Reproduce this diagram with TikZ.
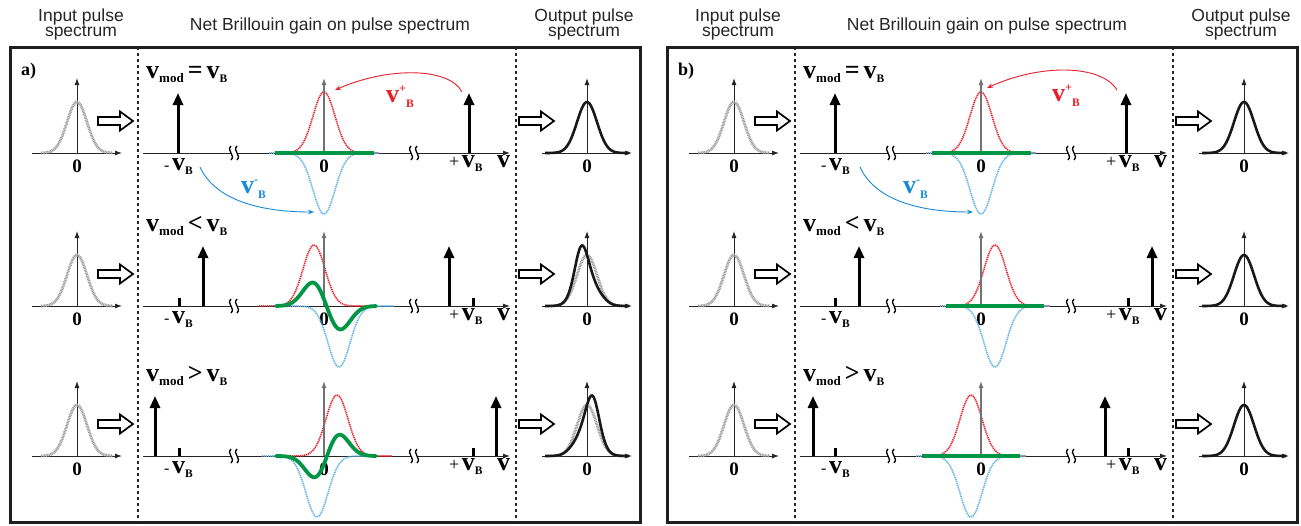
\documentclass[tikz,border=0pt]{standalone}
\usepackage{fontspec}
\setmainfont{Liberation Serif}
\newfontfamily\hdrfont{Liberation Sans}
\usetikzlibrary{arrows.meta}
\definecolor{redc}{RGB}{232,30,40}
\definecolor{bluel}{RGB}{95,178,230}
\definecolor{bluea}{RGB}{20,140,210}
\definecolor{greenc}{RGB}{0,150,70}
\newcommand{\bv}{{\fontsize{26}{26}\selectfont\bfseries v}}
\newcommand{\sbs}[1]{\raisebox{-4pt}{\fontsize{13}{13}\selectfont\bfseries #1}}
\newcommand{\sbB}{\raisebox{-4pt}{\fontsize{11.5}{11.5}\selectfont\bfseries B}}
\newcommand{\brk}[1]{%
  \fill[white] ({#1-3},-5) rectangle ({#1+3},5);
  \draw[brkl] ({#1-3},-7) .. controls ({#1-8},-2) and ({#1+2},2) .. ({#1-3},7);
  \draw[brkl] ({#1+3},-7) .. controls ({#1-2},-2) and ({#1+8},2) .. ({#1+3},7);}
\newcommand{\inputblk}[1]{%
  \draw[axis] (-45,0) -- (45,0);
  \draw[axis] (0,0) -- (0,-75);
  \draw[gin] plot[domain=-36:36,samples=61,smooth] (\x,{-51*exp(-\x*\x/200)});
  \node[zero] (#1) at (0,19) {0};}
\newcommand{\outaxes}[1]{%
  \draw[axis] (-45,0) -- (45,0);
  \draw[axis] (0,0) -- (0,-75);
  \node[zero] (#1) at (0,19) {0};}
\newcommand{\gaussout}{\draw[gout] plot[domain=-42:42,samples=71,smooth] (\x,{-51*exp(-\x*\x/200)});}
\newcommand{\skewout}[1]{%
  \draw[gin] plot[domain=-36:36,samples=61,smooth] (\x,{-51*exp(-\x*\x/200)});
  \draw[gout] plot[domain=-42:42,samples=85,smooth] (\x,{-51*exp(-\x*\x/200)*exp(#1*(exp(-(\x+7)*(\x+7)/200)-exp(-(\x-7)*(\x-7)/200)))});}
\newcommand{\hollow}{\draw[hol] (0,-4) -- (22,-4) -- (22,-9.5) -- (35,0) -- (22,9.5) -- (22,4) -- (0,4) -- cycle;}
\newcommand{\specaxes}[1]{%
  \draw[axis] (-181,0) -- (186,0);
  \brk{-90}\brk{90}
  \node[lbl] (#1m) at (-160,17) {{\fontsize{16}{16}\selectfont -}\hspace{2.5pt}\bv\sbB};
  \node[lbl] (#1p) at (125,14) {{\fontsize{18}{18}\selectfont +}\hspace{2.5pt}\bv\sbB};
  \node[lbl] (#1nu) at (173,14) {\bv};
  \node[zero] (#1z) at (0,19) {0};}
\newcommand{\gains}[2]{%
  \draw[redg] plot[domain=-55:55,samples=81,smooth] ({#1+\x},{-61*exp(-\x*\x/242)});
  \draw[blueg] plot[domain=-55:55,samples=81,smooth] ({#2+\x},{61*exp(-\x*\x/242)});
  \draw[vax] (0,0) -- (0,-75);}
\newcommand{\greencurve}[2]{\draw[greenl,line cap=round] plot[domain=-48:52,samples=90,smooth] (\x,{-25*(exp(-(\x-(#1))*(\x-(#1))/242)-exp(-(\x-(#2))*(\x-(#2))/242))});}
\newcommand{\pump}[1]{\draw[pumpl] (#1,0) -- (#1,-60);}
\newcommand{\tick}[1]{\draw[tickl] (#1,0) -- (#1,-8);}
\newcommand{\rowbase}[2]{%
  \begin{scope}[shift={(77,0)}]\inputblk{#1i}\end{scope}
  \begin{scope}[shift={(98,-32)}]\hollow\end{scope}
  \begin{scope}[shift={(519,-32)}]\hollow\end{scope}
  \node[lbl] (#1mod) at (146,-75) {\bv\sbs{mod}\hspace{4pt}{\fontsize{26}{26}\selectfont\bfseries #2}\hspace{4pt}\bv\sbB};
  \begin{scope}[shift={(324,0)}]\specaxes{#1s}\end{scope}
  \begin{scope}[shift={(587,0)}]\outaxes{#1o}\end{scope}}
\newcommand{\panelframe}[2]{%
  \draw[box] (10,47) rectangle (640,522);
  \draw[sep] (137.5,47) -- (137.5,522);
  \draw[sep] (515.5,47) -- (515.5,522);
  \node[lbl,font=\fontsize{18}{18}\selectfont\bfseries] (#1lab) at (21,75) {#2};
  \node[hdr] (#1h1) at (81,21) {Input pulse};
  \node[hdr] (#1h2) at (81,36) {spectrum};
  \node[hdr] (#1h3) at (330,30) {Net Brillouin gain on pulse spectrum};
  \node[hdr] (#1h4) at (584,21) {Output pulse};
  \node[hdr] (#1h5) at (584,36) {spectrum};}
\begin{document}
\begin{tikzpicture}[x=1pt,y=-1pt,
  axis/.style={line width=0.9pt,black!85,-{Latex[length=7pt,width=5pt]}},
  vax/.style={line width=1.1pt,black!55,-{Latex[length=7pt,width=5pt]}},
  gin/.style={line width=2.8pt,black!40,dash pattern=on 0.9pt off 0.7pt},
  gout/.style={line width=2.6pt,black!90},
  redg/.style={line width=1.6pt,redc,dash pattern=on 1.2pt off 0.8pt},
  blueg/.style={line width=1.6pt,bluel,dash pattern=on 1.2pt off 0.8pt},
  greenl/.style={line width=3.8pt,greenc},
  pumpl/.style={line width=3pt,black,-{Triangle[length=12pt,width=10pt]}},
  tickl/.style={line width=3pt,black},
  hol/.style={line width=1.7pt,black,fill=white,line join=miter},
  sep/.style={line width=2pt,black!85,dash pattern=on 3pt off 3pt},
  box/.style={line width=3pt,black!88},
  brkl/.style={line width=1.3pt,black},
  zero/.style={inner sep=0pt,anchor=base,font=\fontsize{19}{19}\selectfont\bfseries},
  lbl/.style={inner sep=0pt,anchor=base west},
  hdr/.style={inner sep=0pt,anchor=base,text=black!85,font=\hdrfont\fontsize{17.5}{17.5}\selectfont},
  curv/.style={line width=0.9pt,-{Stealth[length=6pt,width=4.5pt]}}]
\fill[white] (0,0) rectangle (1301,525);
\useasboundingbox (0,0) rectangle (1301,525);

% ================= Panel a =================
\panelframe{a}{a)}
% row 1
\begin{scope}[shift={(0,153)}]
  \rowbase{a1}{=}
  \begin{scope}[shift={(324,0)}]
    \gains{0}{0}
    \draw[greenl] (-49,0) -- (50,0);
    \pump{-146}\pump{145}
  \end{scope}
  \begin{scope}[shift={(587,0)}]\gaussout\end{scope}
  \coordinate (a1rs) at (462,-61);
  \coordinate (a1re) at (335,-63);
  \draw[curv,redc] (a1rs) .. controls (450,-85) and (390,-87) .. (a1re);
  \node[lbl,text=redc] (a1rl) at (386,-51) {\bv\raisebox{10pt}{\fontsize{12}{12}\selectfont\bfseries +}\raisebox{-5pt}{\fontsize{11.5}{11.5}\selectfont\bfseries B}};
  \coordinate (a1bs) at (200,14);
  \coordinate (a1be) at (314,59);
  \draw[curv,bluea] (a1bs) .. controls (215,47) and (260,59) .. (a1be);
  \node[lbl,text=bluea] (a1bl) at (241,40) {\bv\raisebox{10pt}{\fontsize{12}{12}\selectfont\bfseries -}\raisebox{-5pt}{\fontsize{11.5}{11.5}\selectfont\bfseries B}};
\end{scope}
% row 2
\begin{scope}[shift={(0,306)}]
  \rowbase{a2}{<}
  \begin{scope}[shift={(324,0)}]
    \gains{-10}{15}
    \greencurve{-10}{15}
    \tick{-145}\pump{-121}\pump{125}\tick{149}
  \end{scope}
  \begin{scope}[shift={(587,0)}]\skewout{0.6}\end{scope}
\end{scope}
% row 3
\begin{scope}[shift={(0,456)}]
  \rowbase{a3}{>}
  \begin{scope}[shift={(324,0)}]
    \gains{13}{-7}
    \greencurve{13}{-7}
    \pump{-169}\tick{-145}\tick{149}\pump{172}
  \end{scope}
  \begin{scope}[shift={(587,0)}]\skewout{-0.6}\end{scope}
\end{scope}

% ================= Panel b =================
\begin{scope}[shift={(657,0)}]
\panelframe{b}{b)}
% row 1
\begin{scope}[shift={(0,153)}]
  \rowbase{b1}{=}
  \begin{scope}[shift={(324,0)}]
    \gains{0}{0}
    \draw[greenl] (-49,0) -- (50,0);
    \pump{-146}\pump{145}
  \end{scope}
  \begin{scope}[shift={(587,0)}]\gaussout\end{scope}
  \coordinate (b1rs) at (460,-63);
  \coordinate (b1re) at (330,-65);
  \draw[curv,redc] (b1rs) .. controls (445,-88) and (385,-90) .. (b1re);
  \node[lbl,text=redc] (b1rl) at (395,-52) {\bv\raisebox{10pt}{\fontsize{12}{12}\selectfont\bfseries +}\raisebox{-5pt}{\fontsize{11.5}{11.5}\selectfont\bfseries B}};
  \coordinate (b1bs) at (203,14);
  \coordinate (b1be) at (316,59);
  \draw[curv,bluea] (b1bs) .. controls (218,47) and (262,59) .. (b1be);
  \node[lbl,text=bluea] (b1bl) at (246,40) {\bv\raisebox{10pt}{\fontsize{12}{12}\selectfont\bfseries -}\raisebox{-5pt}{\fontsize{11.5}{11.5}\selectfont\bfseries B}};
\end{scope}
% row 2
\begin{scope}[shift={(0,306)}]
  \rowbase{b2}{<}
  \begin{scope}[shift={(324,0)}]
    \gains{14}{14}
    \draw[greenl] (-35,0) -- (63,0);
    \tick{-146}\pump{-122}\tick{147}\pump{171}
  \end{scope}
  \begin{scope}[shift={(587,0)}]\gaussout\end{scope}
\end{scope}
% row 3
\begin{scope}[shift={(0,456)}]
  \rowbase{b3}{>}
  \begin{scope}[shift={(324,0)}]
    \gains{-10}{-10}
    \draw[greenl] (-59,0) -- (39,0);
    \pump{-168}\tick{-146}\pump{124}\tick{147}
  \end{scope}
  \begin{scope}[shift={(587,0)}]\gaussout\end{scope}
\end{scope}
\end{scope}
\end{tikzpicture}
\end{document}
